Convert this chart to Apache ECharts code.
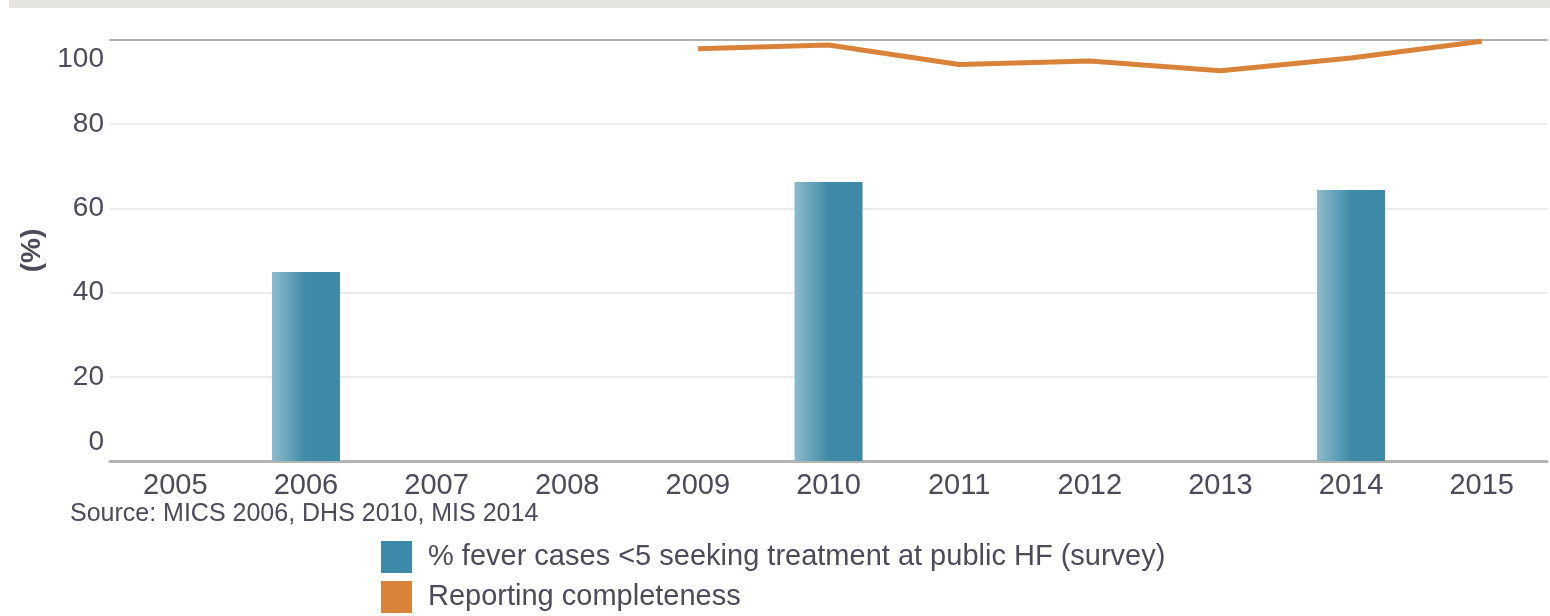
<!DOCTYPE html>
<html>
<head>
<meta charset="utf-8">
<script src="https://cdn.jsdelivr.net/npm/echarts@6/dist/echarts.min.js"></script>
<style>
  html, body { margin: 0; padding: 0; background: #ffffff; }
  #chart { width: 1550px; height: 616px; }
</style>
</head>
<body>
<div id="chart"></div>
<script>
const years = ['2005','2006','2007','2008','2009','2010','2011','2012','2013','2014','2015'];
const feverPublicHF = [null, 44.9, null, null, null, 66.3, null, null, null, 64.4, null];
const reportingCompleteness = [null, null, null, null, 97.9, 98.8, 94.2, 95.0, 92.7, 95.7, 99.7];
const yTicks = { min: 0, max: 100, interval: 20 };
const barName = '% fever cases <5 seeking treatment at public HF (survey)';
const lineName = 'Reporting completeness';
const sourceText = 'Source: MICS 2006, DHS 2010, MIS 2014';

const FONT = '"Liberation Sans", Arial, sans-serif';
const TXT = '#4b4b5a';

const chart = echarts.init(document.getElementById('chart'), null, { renderer: 'canvas' });
chart.setOption({
  animation: false,
  backgroundColor: '#ffffff',
  textStyle: { fontFamily: FONT },
  graphic: [
    { type: 'rect', left: 9, top: 0, shape: { width: 1541, height: 8 }, style: { fill: '#e5e4df' }, silent: true },
    { type: 'text', left: 70, top: 502, style: { text: sourceText, fontSize: 25, fill: TXT, fontFamily: FONT } }
  ],
  grid: { left: 110, right: 3, top: 40, bottom: 155, containLabel: false },
  legend: {
    orient: 'vertical',
    left: 381,
    top: 541,
    padding: 0,
    itemWidth: 31,
    itemHeight: 32,
    itemGap: 8,
    textStyle: { fontSize: 29, color: TXT, fontFamily: FONT, padding: [0, 0, 0, 11] },
    data: [
      { name: barName, icon: 'rect', itemStyle: { color: '#3d8aa8' } },
      { name: lineName, icon: 'rect', itemStyle: { color: '#d9833a' }, lineStyle: { width: 0 } }
    ]
  },
  xAxis: [
    {
      type: 'category',
      data: years,
      boundaryGap: true,
      axisLine: { show: true, lineStyle: { color: '#b4b4b0', width: 3 } },
      axisTick: { show: false },
      axisLabel: { fontSize: 29, color: TXT, margin: 10, fontFamily: FONT },
      splitLine: { show: false }
    },
    {
      type: 'category',
      data: years,
      position: 'top',
      axisLine: { show: true, lineStyle: { color: '#b0b0b0', width: 2 } },
      axisTick: { show: false },
      axisLabel: { show: false },
      splitLine: { show: false }
    }
  ],
  yAxis: {
    type: 'value',
    min: yTicks.min,
    max: yTicks.max,
    interval: yTicks.interval,
    name: '(%)',
    nameLocation: 'middle',
    nameRotate: 90,
    nameGap: 63,
    nameTextStyle: { fontSize: 28, fontWeight: 'bold', color: TXT, fontFamily: FONT },
    axisLine: { show: false },
    axisTick: { show: false },
    axisLabel: {
      fontSize: 28, color: TXT, margin: 6, fontFamily: FONT, lineHeight: 38,
      verticalAlignMinLabel: 'bottom', verticalAlignMaxLabel: 'top'
    },
    splitLine: { show: true, lineStyle: { color: '#ebebeb', width: 2 } }
  },
  series: [
    {
      name: barName,
      type: 'bar',
      data: feverPublicHF,
      barWidth: 68,
      itemStyle: {
        color: new echarts.graphic.LinearGradient(0, 0, 1, 0, [
          { offset: 0, color: '#8dbccb' },
          { offset: 0.5, color: '#3f8aa8' },
          { offset: 1, color: '#3d8aa8' }
        ])
      }
    },
    {
      name: lineName,
      type: 'line',
      data: reportingCompleteness,
      symbol: 'none',
      lineStyle: { color: '#d9833a', width: 5 },
      itemStyle: { color: '#d9833a' },
      z: 5
    }
  ]
});
</script>
</body>
</html>
